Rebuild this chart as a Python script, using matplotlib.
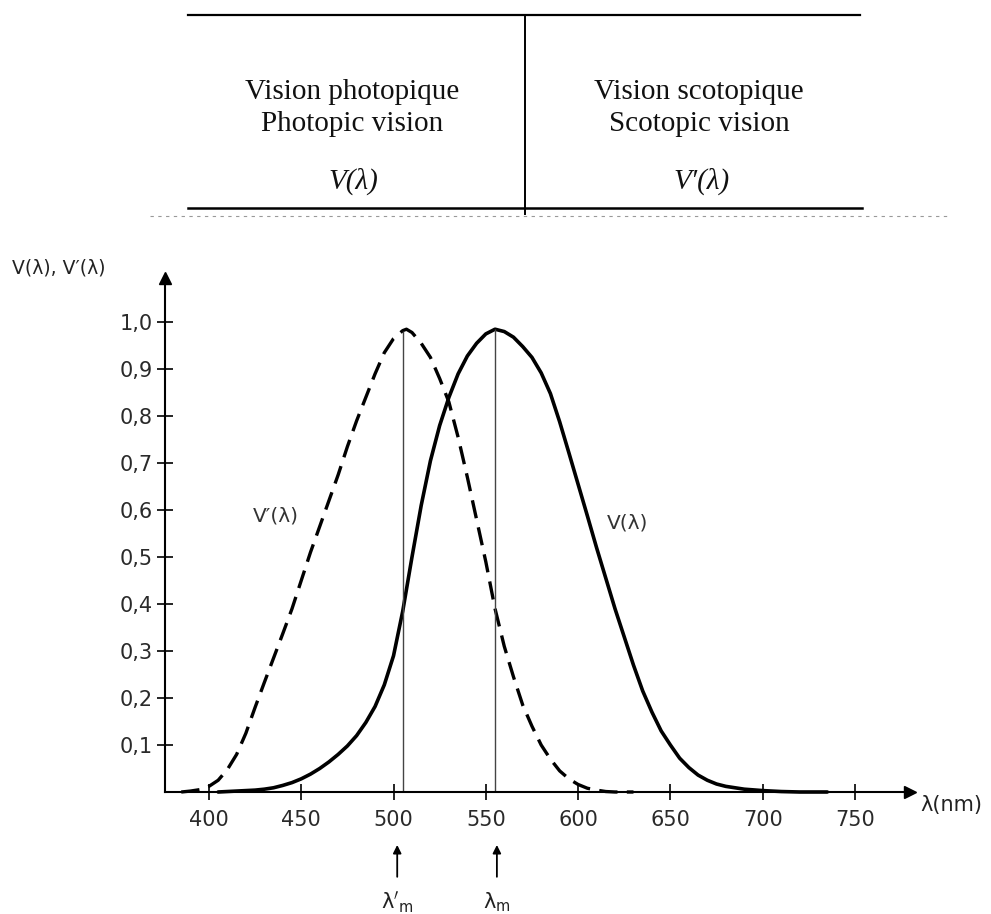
import numpy as np
import matplotlib
matplotlib.use("Agg")
import matplotlib.pyplot as plt
from matplotlib.lines import Line2D

# ---------------- data ----------------
wl_scot = [385, 390, 395, 400, 405, 410, 415, 420, 425, 430, 435, 440, 445, 450,
           455, 460, 465, 470, 475, 480, 485, 490, 495, 500, 505, 507, 510, 515,
           520, 525, 530, 535, 540, 545, 550, 555, 560, 565, 570, 575, 580, 585,
           590, 595, 600, 605, 610, 615, 620, 630]
v_scot = [0.0, 0.002, 0.005, 0.012, 0.025, 0.048, 0.08, 0.125, 0.18, 0.233, 0.285,
          0.337, 0.39, 0.45, 0.51, 0.565, 0.62, 0.675, 0.735, 0.79, 0.84, 0.89,
          0.935, 0.965, 0.982, 0.985, 0.978, 0.955, 0.925, 0.88, 0.83, 0.755, 0.67,
          0.58, 0.49, 0.39, 0.31, 0.245, 0.185, 0.14, 0.1, 0.07, 0.045, 0.028,
          0.016, 0.008, 0.004, 0.001, 0.0, 0.0]

wl_phot = [405, 410, 415, 420, 425, 430, 435, 440, 445, 450, 455, 460, 465, 470,
           475, 480, 485, 490, 495, 500, 505, 510, 515, 520, 525, 530, 535, 540,
           545, 550, 555, 560, 565, 570, 575, 580, 585, 590, 595, 600, 605, 610,
           615, 620, 625, 630, 635, 640, 645, 650, 655, 660, 665, 670, 675, 680,
           685, 690, 700, 710, 720, 735]
v_phot = [0.0, 0.001, 0.002, 0.003, 0.004, 0.006, 0.009, 0.014, 0.02, 0.028, 0.038,
          0.05, 0.064, 0.08, 0.098, 0.12, 0.148, 0.182, 0.228, 0.29, 0.385, 0.5,
          0.61, 0.705, 0.78, 0.84, 0.89, 0.928, 0.955, 0.975, 0.985, 0.98, 0.968,
          0.948, 0.925, 0.892, 0.848, 0.788, 0.722, 0.655, 0.588, 0.52, 0.455, 0.39,
          0.33, 0.27, 0.215, 0.17, 0.13, 0.1, 0.072, 0.052, 0.036, 0.025, 0.017,
          0.012, 0.009, 0.006, 0.003, 0.001, 0.0, 0.0]

lam_m_prime = 505   # scotopic maximum marker
lam_m = 555         # photopic maximum marker
arrow_lams = [502, 556]
arrow_labels = [r"$\mathrm{\lambda}'_\mathrm{m}$", r"$\mathrm{\lambda}_\mathrm{m}$"]

x_ticks = [400, 450, 500, 550, 600, 650, 700, 750]
y_ticks = [0.1, 0.2, 0.3, 0.4, 0.5, 0.6, 0.7, 0.8, 0.9, 1.0]
y_tick_labels = ["0,1", "0,2", "0,3", "0,4", "0,5", "0,6", "0,7", "0,8", "0,9", "1,0"]

# ---------------- figure ----------------
W, H = 991, 914
fig = plt.figure(figsize=(W / 100, H / 100), dpi=100)
fig.patch.set_facecolor("white")
plt.rcParams["mathtext.fontset"] = "dejavusans"

def fx(px):
    return px / W

def fy(py):
    return 1 - py / H

ax = fig.add_axes([fx(165), fy(792), (910 - 165) / W, (792 - 278) / H])
ax.set_xlim(376.2, 779.8)
ax.set_ylim(0, 1.094)

for s in ["top", "right"]:
    ax.spines[s].set_visible(False)
for s in ["left", "bottom"]:
    ax.spines[s].set_linewidth(1.5)
    ax.spines[s].set_color("black")

# arrow heads on axes
ax.plot(1, 0, ">", color="black", markersize=8, transform=ax.transAxes, clip_on=False)
ax.plot(0, 1, "^", color="black", markersize=8, transform=ax.transAxes, clip_on=False)

ax.set_xticks(x_ticks)
ax.set_xticklabels([str(t) for t in x_ticks])
ax.set_yticks(y_ticks)
ax.set_yticklabels(y_tick_labels)
ax.tick_params(axis="both", direction="inout", length=12, width=1.2, color="black",
               labelsize=15, labelcolor="#2a2a2a")
ax.tick_params(axis="x", pad=7)
ax.tick_params(axis="y", pad=3)

# curves
ax.plot(wl_phot, v_phot, color="black", lw=2.6, solid_capstyle="round",
        solid_joinstyle="round", clip_on=False)
ax.plot(wl_scot, v_scot, color="black", lw=2.4, linestyle=(0, (5.5, 2.8)),
        dash_joinstyle="round", clip_on=False)

# vertical lines at the maxima
top_sc = np.interp(lam_m_prime, wl_scot, v_scot)
top_ph = np.interp(lam_m, wl_phot, v_phot)
ax.vlines([lam_m_prime, lam_m], 0, [top_sc, top_ph], color="#444444", lw=1.0)

# arrows and labels below axis
trans = ax.get_xaxis_transform()
for lam, lab in zip(arrow_lams, arrow_labels):
    ax.annotate("", xy=(lam, -0.103), xytext=(lam, -0.165), xycoords=trans,
                textcoords=trans,
                arrowprops=dict(arrowstyle="-|>", color="black", lw=1.3,
                                mutation_scale=12, shrinkA=0, shrinkB=0))
    ax.text(lam, -0.214, lab, transform=trans, ha="center", va="center",
            fontsize=15, color="#222222")

# axis labels
fig.text(fx(12), fy(268), r"V(λ), V′(λ)", ha="left", va="center", fontsize=13.5,
         color="#222222")
fig.text(fx(920), fy(805), "λ(nm)", ha="left", va="center", fontsize=15,
         color="#222222")

# curve labels
fig.text(fx(276), fy(516), "V′(λ)", ha="center", va="center", fontsize=14.5, color="#333333")
fig.text(fx(628), fy(523), "V(λ)", ha="center", va="center", fontsize=14.5, color="#333333")

# ---------------- table on top ----------------
def fline(x0, y0, x1, y1, lw=1.6, color="black", ls="-"):
    fig.add_artist(Line2D([fx(x0), fx(x1)], [fy(y0), fy(y1)], lw=lw, color=color,
                          linestyle=ls, transform=fig.transFigure))

fline(188, 15, 860, 15, lw=1.6)
fline(188, 208, 862, 208, lw=1.8)
fline(525, 15, 525, 214, lw=1.4)
fline(150, 216, 950, 216, lw=0.8, color="#999999", ls=(0, (3, 4)))

serif = "Liberation Serif"
fig.text(fx(352), fy(92), "Vision photopique", ha="center", va="center",
         fontsize=21, family=serif, color="#111111")
fig.text(fx(352), fy(124), "Photopic vision", ha="center", va="center",
         fontsize=21, family=serif, color="#111111")
fig.text(fx(353), fy(181), "V(λ)", ha="center", va="center",
         fontsize=21, family=serif, style="italic", color="#111111")
fig.text(fx(699), fy(92), "Vision scotopique", ha="center", va="center",
         fontsize=21, family=serif, color="#111111")
fig.text(fx(699), fy(124), "Scotopic vision", ha="center", va="center",
         fontsize=21, family=serif, color="#111111")
fig.text(fx(702), fy(181), "V′(λ)", ha="center", va="center",
         fontsize=21, family=serif, style="italic", color="#111111")

fig.savefig("out.png", dpi=100, facecolor="white")
